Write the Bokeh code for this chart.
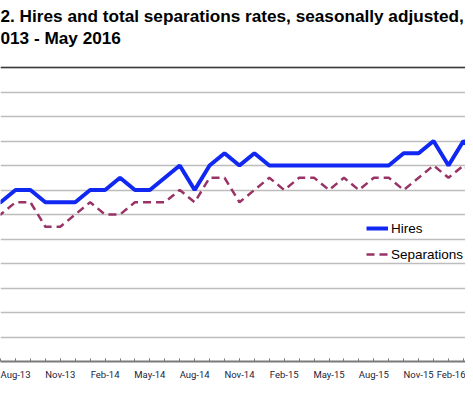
from bokeh.plotting import figure
from bokeh.models import FixedTicker, Label, Span, ColumnDataSource
from bokeh.embed import file_html
from bokeh.resources import INLINE

months = ["May-13", "Jun-13", "Jul-13", "Aug-13", "Sep-13", "Oct-13", "Nov-13", "Dec-13",
          "Jan-14", "Feb-14", "Mar-14", "Apr-14", "May-14", "Jun-14", "Jul-14", "Aug-14",
          "Sep-14", "Oct-14", "Nov-14", "Dec-14", "Jan-15", "Feb-15", "Mar-15", "Apr-15",
          "May-15", "Jun-15", "Jul-15", "Aug-15", "Sep-15", "Oct-15", "Nov-15", "Dec-15",
          "Jan-16", "Feb-16", "Mar-16", "Apr-16", "May-16"]
hires = [3.3, 3.3, 3.3, 3.4, 3.4, 3.3, 3.3, 3.3, 3.4, 3.4, 3.5, 3.4, 3.4, 3.5, 3.6, 3.4,
         3.6, 3.7, 3.6, 3.7, 3.6, 3.6, 3.6, 3.6, 3.6, 3.6, 3.6, 3.6, 3.6, 3.7, 3.7, 3.8,
         3.6, 3.8, 3.7, 3.6, 3.6]
separations = [3.2, 3.2, 3.2, 3.3, 3.3, 3.1, 3.1, 3.2, 3.3, 3.2, 3.2, 3.3, 3.3, 3.3, 3.4, 3.3,
               3.5, 3.5, 3.3, 3.4, 3.5, 3.4, 3.5, 3.5, 3.4, 3.5, 3.4, 3.5, 3.5, 3.4, 3.5, 3.6,
               3.5, 3.6, 3.5, 3.5, 3.5]
y_ticks = [2.0, 2.2, 2.4, 2.6, 2.8, 3.0, 3.2, 3.4, 3.6, 3.8, 4.0, 4.2, 4.4]
title_line1 = "2. Hires and total separations rates, seasonally adjusted,"
title_line2 = "013 - May 2016"

W, H = 465, 387
BOTTOM = 26
frame_h = H - BOTTOM
px_per_unit = 294.0 / (y_ticks[-1] - y_ticks[0])
y0 = y_ticks[0]
y1 = y0 + frame_h / px_per_unit
x0 = 1.995
x1 = x0 + W / 14.93

idx = list(range(len(months)))
src = ColumnDataSource(data=dict(x=idx, hires=hires, separations=separations))

p = figure(width=W, height=H, output_backend="svg", toolbar_location=None,
           x_range=(x0, x1), y_range=(y0, y1), y_axis_location=None, title_location=None,
           min_border_left=0, min_border_right=0, min_border_top=0, min_border_bottom=BOTTOM)
p.outline_line_color = None
p.background_fill_color = "white"
p.border_fill_color = "white"

p.xgrid.visible = False
p.ygrid.ticker = FixedTicker(ticks=y_ticks)
p.ygrid.grid_line_color = "#bdbdbd"
p.ygrid.grid_line_width = 1.4

p.add_layout(Span(location=y_ticks[-1], dimension="width", line_color="#3a3a3a", line_width=1.6))

major = idx[::3]
ax = p.xaxis[0]
ax.ticker = FixedTicker(ticks=major, minor_ticks=idx)
ax.major_label_overrides = {i: months[i] for i in major}
ax.axis_line_color = "#7a7a7a"
ax.axis_line_width = 1.8
ax.major_tick_line_color = "#7a7a7a"
ax.minor_tick_line_color = "#7a7a7a"
ax.major_tick_in = 3
ax.major_tick_out = 0
ax.minor_tick_in = 3
ax.minor_tick_out = 0
ax.major_label_standoff = 7
ax.major_label_text_font = "Roboto"
ax.major_label_text_font_size = "9.5px"
ax.major_label_text_color = "#1c1c3a"

p.line("x", "hires", source=src, line_color="#1028f2", line_width=4, legend_label="Hires")
p.line("x", "separations", source=src, line_color="#993366", line_width=2.5,
       line_dash="8 5", legend_label="Separations")

lg = p.legend[0]
lg.location = (366, 97)
lg.padding = 0
lg.margin = 0
lg.spacing = 6
lg.glyph_width = 22
lg.glyph_height = 20
lg.label_height = 20
lg.label_standoff = 3
lg.label_text_font = "Liberation Sans"
lg.label_text_font_size = "13.5px"
lg.label_text_color = "black"
lg.border_line_alpha = 0
lg.background_fill_alpha = 0

for txt, base_px in [(title_line1, 15.0), (title_line2, 37.0)]:
    p.add_layout(Label(x=x0, y=y0 + (frame_h - base_px) / px_per_unit, text=txt,
                       text_font="Liberation Sans", text_font_style="bold",
                       text_font_size="17.2px", text_color="black",
                       text_baseline="alphabetic", text_align="left"))

open("out.html", "w").write(file_html(p, INLINE))
